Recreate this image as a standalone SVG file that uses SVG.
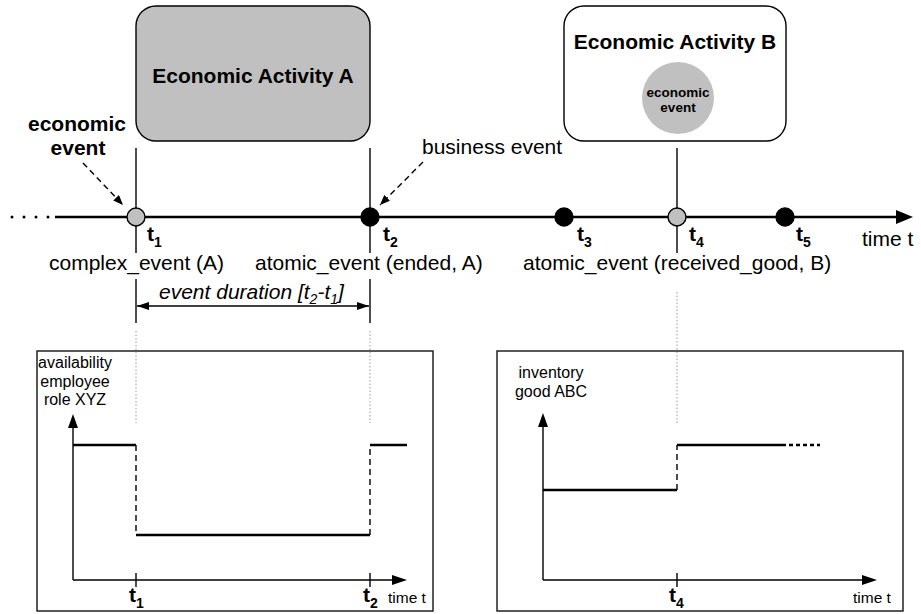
<svg xmlns="http://www.w3.org/2000/svg" width="921" height="614" viewBox="0 0 921 614">
<style>
text{font-family:"Liberation Sans",Arial,sans-serif;fill:#000}
.b{font-weight:bold}
.lbl{font-size:21px}
.sm{font-size:16px}
.thin{stroke:#000;stroke-width:1.4;fill:none}
.thick{stroke:#000;stroke-width:2.7;fill:none}
.dash{stroke:#000;stroke-width:1.4;fill:none;stroke-dasharray:6 4}
.dot{stroke:#999;stroke-width:1;fill:none;stroke-dasharray:1.5 2}
.gray{fill:#c0c0c0;stroke:#000;stroke-width:1.4}
.blk{fill:#000;stroke:#000;stroke-width:1.4}
.frame{fill:none;stroke:#222;stroke-width:1.5}
</style>
<defs>
<marker id="ah" viewBox="0 0 10 8" refX="10" refY="4" markerWidth="10" markerHeight="8" markerUnits="userSpaceOnUse" orient="auto">
<path d="M0,0 L10,4 L0,8 z" fill="#000"/>
</marker>
<marker id="ah2" viewBox="0 0 12 8" refX="12" refY="4" markerWidth="12" markerHeight="8" markerUnits="userSpaceOnUse" orient="auto-start-reverse">
<path d="M0,0 L12,4 L0,8 z" fill="#000"/>
</marker>
</defs>

<g id="activity-a">
<rect x="136" y="6" width="234" height="135" rx="20" ry="20" class="gray"/>
<text x="253" y="83" text-anchor="middle" class="b lbl">Economic Activity A</text>
</g>

<g id="activity-b">
<rect x="564" y="6" width="222" height="135" rx="20" ry="20" fill="#fff" stroke="#000" stroke-width="1.4"/>
<text x="675" y="49" text-anchor="middle" class="b lbl">Economic Activity B</text>
<circle cx="678" cy="98" r="36" fill="#c0c0c0"/>
<text x="678" y="97" text-anchor="middle" class="b" font-size="13.5">economic</text>
<text x="678" y="112" text-anchor="middle" class="b" font-size="13.5">event</text>
</g>

<g id="labels">
<text x="77" y="131" text-anchor="middle" class="b lbl">economic</text>
<text x="78" y="155" text-anchor="middle" class="b lbl">event</text>
<text x="422" y="154" class="lbl">business event</text>
<text x="49" y="270" class="lbl">complex_event (A)</text>
<text x="255" y="270" class="lbl">atomic_event (ended, A)</text>
<text x="523" y="270" class="lbl">atomic_event (received_good, B)</text>
<text x="862" y="246" class="lbl">time t</text>
<text x="147" y="241" class="b lbl">t<tspan font-size="14" dy="6">1</tspan></text>
<text x="383" y="241" class="b lbl">t<tspan font-size="14" dy="6">2</tspan></text>
<text x="577" y="241" class="b lbl">t<tspan font-size="14" dy="6">3</tspan></text>
<text x="689" y="241" class="b lbl">t<tspan font-size="14" dy="6">4</tspan></text>
<text x="796" y="241" class="b lbl">t<tspan font-size="14" dy="6">5</tspan></text>
<text x="159" y="299" class="lbl" font-style="italic">event duration [t<tspan font-size="14" dy="5">2</tspan><tspan dy="-5">-t</tspan><tspan font-size="14" dy="5">1</tspan><tspan dy="-5">]</tspan></text>
</g>

<g id="connectors">
<line x1="136" y1="148" x2="136" y2="253" class="thin"/>
<line x1="136" y1="279" x2="136" y2="323" class="thin"/>
<line x1="370" y1="148" x2="370" y2="253" class="thin"/>
<line x1="370" y1="279" x2="370" y2="323" class="thin"/>
<line x1="677" y1="148" x2="677" y2="253" class="thin"/>
<line x1="136" y1="331" x2="136" y2="423" class="dot"/>
<line x1="370" y1="331" x2="370" y2="423" class="dot"/>
<line x1="677" y1="292" x2="677" y2="423" class="dot"/>
<circle cx="12" cy="217" r="1.5" fill="#000"/>
<circle cx="24" cy="217" r="1.5" fill="#000"/>
<circle cx="36" cy="217" r="1.5" fill="#000"/>
<circle cx="48" cy="217" r="1.5" fill="#000"/>
<line x1="55" y1="217" x2="898" y2="217" class="thick"/>
<polygon points="913,217 896,210 896,224" fill="#000"/>
<line x1="83" y1="163" x2="123" y2="205" class="dash" marker-end="url(#ah)"/>
<line x1="423" y1="162" x2="380" y2="205" class="dash" marker-end="url(#ah)"/>
<line x1="137" y1="306" x2="369" y2="306" class="thin" marker-start="url(#ah2)" marker-end="url(#ah2)"/>
<circle cx="136" cy="217" r="9" class="gray"/>
<circle cx="370" cy="217" r="9" class="blk"/>
<circle cx="564" cy="217" r="9" class="blk"/>
<circle cx="677" cy="217" r="9" class="gray"/>
<circle cx="785" cy="217" r="9" class="blk"/>
</g>

<g id="chart-availability">
<rect x="37" y="351" width="396" height="260" class="frame"/>
<text x="75" y="368" text-anchor="middle" class="sm">availability</text>
<text x="75" y="387" text-anchor="middle" class="sm">employee</text>
<text x="75" y="405" text-anchor="middle" class="sm">role XYZ</text>
<line x1="73" y1="580" x2="73" y2="428" class="thin"/>
<polygon points="73,414 68,428 78,428" fill="#000"/>
<line x1="73" y1="580" x2="393" y2="580" class="thin"/>
<polygon points="407,580 392,575 392,585" fill="#000"/>
<line x1="136" y1="573" x2="136" y2="587" class="thin"/>
<line x1="370" y1="573" x2="370" y2="587" class="thin"/>
<line x1="73" y1="445" x2="136" y2="445" class="thick"/>
<line x1="136" y1="445" x2="136" y2="535" class="dash"/>
<line x1="136" y1="535" x2="370" y2="535" class="thick"/>
<line x1="370" y1="535" x2="370" y2="445" class="dash"/>
<line x1="370" y1="445" x2="407" y2="445" class="thick"/>
<text x="129" y="602" class="b lbl">t<tspan font-size="14" dy="6">1</tspan></text>
<text x="363" y="602" class="b lbl">t<tspan font-size="14" dy="6">2</tspan></text>
<text x="388" y="603" font-size="15.5">time t</text>
</g>

<g id="chart-inventory">
<rect x="497" y="351" width="406" height="260" class="frame"/>
<text x="551" y="378" text-anchor="middle" class="sm">inventory</text>
<text x="551" y="397" text-anchor="middle" class="sm">good ABC</text>
<line x1="543" y1="580" x2="543" y2="427" class="thin"/>
<polygon points="543,413 538,427 548,427" fill="#000"/>
<line x1="543" y1="580" x2="863" y2="580" class="thin"/>
<polygon points="877,580 862,575 862,585" fill="#000"/>
<line x1="677" y1="573" x2="677" y2="587" class="thin"/>
<line x1="543" y1="490" x2="677" y2="490" class="thick"/>
<line x1="677" y1="490" x2="677" y2="445" class="dash"/>
<line x1="677" y1="445" x2="782" y2="445" class="thick"/>
<line x1="782" y1="445" x2="820" y2="445" stroke="#000" stroke-width="2.7" stroke-dasharray="4 3"/>
<text x="669" y="602" class="b lbl">t<tspan font-size="14" dy="6">4</tspan></text>
<text x="853" y="603" font-size="15.5">time t</text>
</g>
</svg>
